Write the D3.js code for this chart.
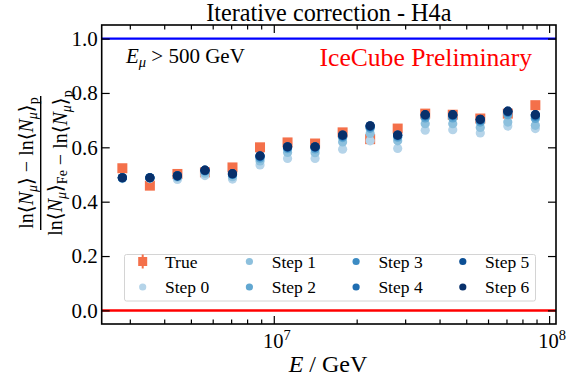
<!DOCTYPE html>
<html>
<head>
<meta charset="utf-8">
<script src="https://cdn.jsdelivr.net/npm/d3@7"></script>
<style>
  body { margin: 0; background: #fff; }
</style>
</head>
<body>
<svg id="chart" width="570" height="383"></svg>
<script>
// log10 of the bin centres (GeV)
const logE = [6.45, 6.55, 6.65, 6.75, 6.85, 6.95, 7.05, 7.15, 7.25, 7.35, 7.45, 7.55, 7.65, 7.75, 7.85, 7.95]

const trueVals = [0.523, 0.459, 0.502, 0.508, 0.526, 0.600, 0.618, 0.614, 0.655, 0.630, 0.669, 0.724, 0.720, 0.706, 0.724, 0.755]
const trueErr  = [0.008, 0.008, 0.008, 0.008, 0.008, 0.008, 0.008, 0.008, 0.008, 0.008, 0.008, 0.008, 0.008, 0.008, 0.008, 0.008]

const step0 = [0.485, 0.485, 0.482, 0.496, 0.483, 0.535, 0.559, 0.559, 0.593, 0.624, 0.596, 0.663, 0.665, 0.653, 0.678, 0.669]
const step1 = [0.487, 0.487, 0.490, 0.505, 0.492, 0.550, 0.581, 0.580, 0.620, 0.651, 0.624, 0.687, 0.687, 0.673, 0.693, 0.681]
const step2 = [0.488, 0.488, 0.493, 0.512, 0.499, 0.560, 0.595, 0.594, 0.636, 0.670, 0.637, 0.708, 0.708, 0.693, 0.720, 0.706]
const step3 = [0.488, 0.488, 0.494, 0.514, 0.501, 0.565, 0.599, 0.599, 0.641, 0.675, 0.642, 0.715, 0.716, 0.699, 0.728, 0.714]
const step4 = [0.488, 0.488, 0.495, 0.515, 0.502, 0.567, 0.601, 0.601, 0.643, 0.677, 0.644, 0.718, 0.718, 0.701, 0.731, 0.718]
const step5 = [0.488, 0.488, 0.495, 0.516, 0.503, 0.568, 0.602, 0.602, 0.645, 0.679, 0.645, 0.720, 0.720, 0.703, 0.733, 0.720]
const step6 = [0.488, 0.488, 0.495, 0.516, 0.503, 0.569, 0.602, 0.602, 0.645, 0.679, 0.645, 0.720, 0.720, 0.703, 0.733, 0.720]

const steps = [step0, step1, step2, step3, step4, step5, step6]
const stepNames = ['Step 0', 'Step 1', 'Step 2', 'Step 3', 'Step 4', 'Step 5', 'Step 6']
const yTicks = [0, 0.2, 0.4, 0.6, 0.8, 1.0]
const xMajor = [1e7, 1e8]
const xMinor = [3e6, 4e6, 5e6, 6e6, 7e6, 8e6, 9e6, 2e7, 3e7, 4e7, 5e7, 6e7, 7e7, 8e7, 9e7]

const pLeft = 101.7, pRight = 556, pTop = 25, pBottom = 324
const serif = "'Liberation Serif', 'DejaVu Serif', serif"
const trueColor = '#f4704a'
const stepColors = steps.map((s, i) => d3.interpolateBlues(0.3 + i * 0.7 / 6))

const x = d3.scaleLog().domain([10 ** 6.375, 10 ** 8.025]).range([pLeft, pRight])
const y = d3.scaleLinear().domain([-0.05, 1.05]).range([pBottom, pTop])

const svg = d3.select('#chart').attr('font-family', serif)

//titulo
svg.append('text')
  .text('Iterative correction - H4a')
  .attr('x', (pLeft + pRight) / 2).attr('y', 21)
  .attr('text-anchor', 'middle')
  .attr('font-size', 24.2)

//lineas de referencia
svg.append('line')
  .attr('x1', pLeft).attr('x2', pRight)
  .attr('y1', y(1)).attr('y2', y(1))
  .attr('stroke', '#0000ff').attr('stroke-width', 2.2)
svg.append('line')
  .attr('x1', pLeft).attr('x2', pRight)
  .attr('y1', y(0)).attr('y2', y(0))
  .attr('stroke', '#ff0000').attr('stroke-width', 2.5)

//true: cuadrados con barras de error
const idx = d3.range(logE.length)
const tg = svg.append('g')
tg.selectAll('line')
  .data(idx)
  .join('line')
  .attr('x1', i => x(10 ** logE[i])).attr('x2', i => x(10 ** logE[i]))
  .attr('y1', i => y(trueVals[i] - trueErr[i])).attr('y2', i => y(trueVals[i] + trueErr[i]))
  .attr('stroke', trueColor).attr('stroke-width', 2)
tg.selectAll('rect')
  .data(idx)
  .join('rect')
  .attr('x', i => x(10 ** logE[i]) - 5)
  .attr('y', i => y(trueVals[i]) - 5)
  .attr('width', 10).attr('height', 10)
  .attr('fill', trueColor)

//pasos
steps.forEach((s, k) => {
  svg.append('g')
    .selectAll('circle')
    .data(idx)
    .join('circle')
    .attr('cx', i => x(10 ** logE[i]))
    .attr('cy', i => y(s[i]))
    .attr('r', 4.6)
    .attr('fill', stepColors[k])
})

//leyenda
const lg = svg.append('g')
lg.append('rect')
  .attr('x', 124.5).attr('y', 254.5).attr('width', 411).attr('height', 46.5)
  .attr('rx', 2)
  .attr('fill', '#fff').attr('fill-opacity', 0.85)
  .attr('stroke', '#d4d4d4').attr('stroke-width', 1)
const items = [{name: 'True', color: trueColor, square: true}]
  .concat(stepNames.map((n, k) => ({name: n, color: stepColors[k]})))
items.forEach((it, j) => {
  const col = Math.floor(j / 2), row = j % 2
  const mx = 142.7 + col * 106.7, my = 261.5 + row * 25.5
  if (it.square) {
    lg.append('line')
      .attr('x1', mx).attr('x2', mx).attr('y1', my - 7).attr('y2', my + 7)
      .attr('stroke', it.color).attr('stroke-width', 2)
    lg.append('rect')
      .attr('x', mx - 4.5).attr('y', my - 4.5).attr('width', 9).attr('height', 9)
      .attr('fill', it.color)
  } else {
    lg.append('circle').attr('cx', mx).attr('cy', my).attr('r', 3.6).attr('fill', it.color)
  }
  lg.append('text')
    .text(it.name)
    .attr('x', mx + 22.3).attr('y', my + 6)
    .attr('font-size', 17.5)
})

//ejes
const axisLeft = d3.axisLeft(y).tickValues(yTicks).tickFormat(d3.format('.1f'))
  .tickSizeInner(-8).tickSizeOuter(0).tickPadding(4)
svg.append('g').attr('transform', `translate(${pLeft},0)`).call(axisLeft)
  .attr('font-family', serif).attr('font-size', 21)
const axisRight = d3.axisRight(y).tickValues(yTicks).tickFormat('')
  .tickSizeInner(-8).tickSizeOuter(0)
svg.append('g').attr('transform', `translate(${pRight},0)`).call(axisRight)

const xMinorB = d3.axisBottom(x).tickValues(xMinor).tickFormat('').tickSizeInner(-4.5).tickSizeOuter(0)
const xMajorB = d3.axisBottom(x).tickValues(xMajor).tickFormat('').tickSizeInner(-8).tickSizeOuter(0)
const xMinorT = d3.axisTop(x).tickValues(xMinor).tickFormat('').tickSizeInner(-4.5).tickSizeOuter(0)
const xMajorT = d3.axisTop(x).tickValues(xMajor).tickFormat('').tickSizeInner(-8).tickSizeOuter(0)
svg.append('g').attr('transform', `translate(0,${pBottom})`).call(xMinorB)
svg.append('g').attr('transform', `translate(0,${pBottom})`).call(xMajorB)
svg.append('g').attr('transform', `translate(0,${pTop})`).call(xMinorT)
svg.append('g').attr('transform', `translate(0,${pTop})`).call(xMajorT)
svg.selectAll('.domain').remove()
svg.selectAll('.tick line').attr('stroke', '#000').attr('stroke-width', 1.2)

//etiquetas 10^n
xMajor.forEach(v => {
  const t = svg.append('text')
    .attr('x', x(v) + 3).attr('y', 348)
    .attr('text-anchor', 'middle')
    .attr('font-size', 20.5)
  t.append('tspan').text('10')
  t.append('tspan').text(Math.round(Math.log10(v))).attr('dy', -8.5).attr('font-size', 14.5)
})

//marco
svg.append('rect')
  .attr('x', pLeft).attr('y', pTop).attr('width', pRight - pLeft).attr('height', pBottom - pTop)
  .attr('fill', 'none').attr('stroke', '#000').attr('stroke-width', 1.6)

//textos internos
const em = svg.append('text').attr('x', 126).attr('y', 62.7).attr('font-size', 21)
em.append('tspan').text('E').attr('font-style', 'italic')
em.append('tspan').text('μ').attr('font-style', 'italic').attr('font-size', 14.5).attr('dy', 4)
em.append('tspan').text(' > 500 GeV').attr('dy', -4)

svg.append('text')
  .text('IceCube Preliminary')
  .attr('x', 532).attr('y', 65.7)
  .attr('text-anchor', 'end')
  .attr('fill', '#ff0000')
  .attr('font-size', 25.6)

//eje x titulo
const xl = svg.append('text')
  .attr('x', 328).attr('y', 372)
  .attr('text-anchor', 'middle')
  .attr('font-size', 24)
xl.append('tspan').text('E').attr('font-style', 'italic')
xl.append('tspan').text(' / GeV')

//eje y titulo (fraccion)
const yl = svg.append('g').attr('transform', 'translate(40.7,163) rotate(-90)')
function lnN(t, sub) {
  t.append('tspan').text('ln⟨')
  t.append('tspan').text('N').attr('font-style', 'italic')
  t.append('tspan').text('μ').attr('font-style', 'italic').attr('font-size', 14).attr('dy', 4)
  t.append('tspan').text('⟩').attr('dy', -4)
  if (sub) {
    t.append('tspan').text(sub).attr('font-size', 14).attr('dy', 5)
    t.append('tspan').text('').attr('dy', -5)
  }
}
const num = yl.append('text').attr('x', 0).attr('y', -8).attr('text-anchor', 'middle').attr('font-size', 20)
lnN(num, '')
num.append('tspan').text(' − ')
lnN(num, 'p')
yl.append('line')
  .attr('x1', -67).attr('x2', 67).attr('y1', 0).attr('y2', 0)
  .attr('stroke', '#000').attr('stroke-width', 1.4)
const den = yl.append('text').attr('x', 0).attr('y', 21.5).attr('text-anchor', 'middle').attr('font-size', 20)
lnN(den, 'Fe')
den.append('tspan').text(' − ')
lnN(den, 'p')
</script>
</body>
</html>
